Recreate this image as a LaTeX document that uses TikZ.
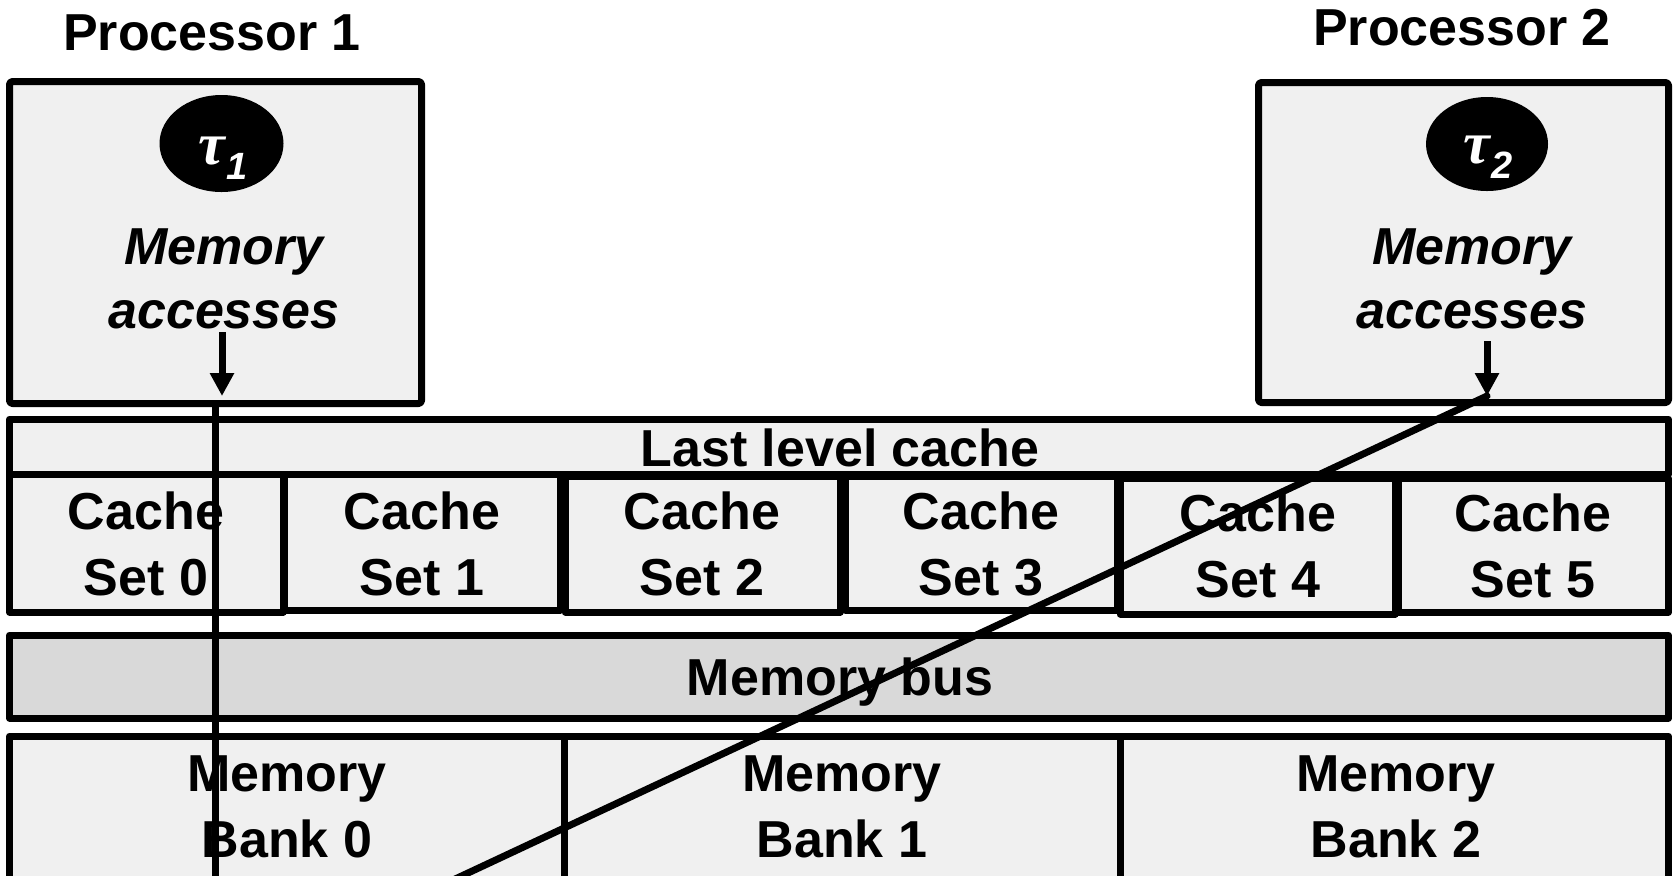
\documentclass[tikz,border=0pt]{standalone}
\usepackage{fontspec}
\setmainfont{Liberation Sans}
\newfontfamily\taufont{Liberation Serif}
\usetikzlibrary{fit,shapes.geometric,arrows.meta}
\definecolor{boxgray}{RGB}{240,240,240}
\definecolor{busgray}{RGB}{217,217,217}
\newcommand{\taulabel}[1]{{\taufont\fontsize{30}{32}\selectfont τ}\kern0.5pt\raisebox{-7.5pt}{\fontsize{19}{19}\selectfont #1}}
\begin{document}
\begin{tikzpicture}[x=0.5pt,y=-0.5pt,
  box/.style={draw, line width=3.5pt, fill=boxgray, inner sep=0pt, line join=round},
  procbox/.style={box, rounded corners=1.5pt},
  busbox/.style={box, fill=busgray},
  lbl/.style={inner sep=0pt, align=center, font=\fontsize{26}{33}\selectfont\bfseries},
  acc/.style={lbl, font=\fontsize{26}{32}\selectfont\bfseries\itshape},
  task/.style={ellipse, fill=black, inner sep=0pt},
  tasklbl/.style={inner sep=0pt, text=white, font=\bfseries\itshape},
  arr/.style={line width=3.5pt, -{Triangle[width=11.5pt,length=11.5pt]}},
  path1/.style={line width=3.5pt}]
\useasboundingbox (0,0) rectangle (1673,875);
\clip (0,0) rectangle (1673,875);

% processors
\node[lbl, anchor=base] (p1lbl) at (212,50) {Processor 1};
\node[lbl, anchor=base] (p2lbl) at (1462,45) {Processor 2};
\node[procbox, fit={(9.5,81.5) (421.5,403.5)}] (p1) {};
\node[procbox, fit={(1258.5,82.5) (1668.5,402.5)}] (p2) {};
\node[task, minimum width=62pt, minimum height=48.5pt] (t1) at (221.5,143.5) {};
\node[task, minimum width=61pt, minimum height=47pt] (t2) at (1487,144) {};
\node[tasklbl, anchor=base] (t1lbl) at (223,164) {\taulabel{1}};
\node[tasklbl, anchor=base] (t2lbl) at (1488,163) {\taulabel{2}};
\node[acc] (m1) at (224,278.5) {Memory\\accesses};
\node[acc] (m2) at (1472,278.5) {Memory\\accesses};

% last level cache and its sets
\node[box, fit={(9.5,419) (1668.5,474)}] (llc) {};
\node[lbl, anchor=base] (llclbl) at (840,466) {Last level cache};
\node[box, fit={(9.5,474) (283,612)}] (s0) {};
\node[box, fit={(284,474) (560,610)}] (s1) {};
\node[box, fit={(565,476) (840,612)}] (s2) {};
\node[box, fit={(845,476) (1117,610)}] (s3) {};
\node[box, fit={(1120,478) (1395,614)}] (s4) {};
\node[box, fit={(1398,478) (1668.5,612)}] (s5) {};
\node[lbl] (s0lbl) at (146,544) {Cache\\Set 0};
\node[lbl] (s1lbl) at (422,544) {Cache\\Set 1};
\node[lbl] (s2lbl) at (702,544) {Cache\\Set 2};
\node[lbl] (s3lbl) at (981,544) {Cache\\Set 3};
\node[lbl] (s4lbl) at (1258,546) {Cache\\Set 4};
\node[lbl] (s5lbl) at (1533,546) {Cache\\Set 5};

% memory bus
\node[busbox, fit={(9.5,635) (1668.5,718)}] (bus) {};
\node[lbl, anchor=base] (buslbl) at (840,695) {Memory bus};

% memory banks
\node[box, fit={(9.5,736) (564,920)}] (b0) {};
\node[box, fit={(564,736) (1120,920)}] (b1) {};
\node[box, fit={(1120,736) (1668.5,920)}] (b2) {};
\node[lbl] (b0lbl) at (287,807) {Memory\\Bank 0};
\node[lbl] (b1lbl) at (842,807) {Memory\\Bank 1};
\node[lbl] (b2lbl) at (1396,807) {Memory\\Bank 2};

% access paths
\coordinate (a1s) at (222,332);
\coordinate (a1e) at (222,396);
\coordinate (a2s) at (1487,341);
\coordinate (a2e) at (1487,396);
\draw[arr] (a1s) -- (a1e);
\draw[arr] (a2s) -- (a2e);
\coordinate (v1top) at (215.5,403);
\coordinate (v1bot) at (215.5,880);
\coordinate (d2top) at (1487,396);
\coordinate (d2bot) at (453,880);
\draw[path1] (v1top) -- (v1bot);
\draw[path1, line cap=round] (d2top) -- (d2bot);
\end{tikzpicture}
\end{document}
